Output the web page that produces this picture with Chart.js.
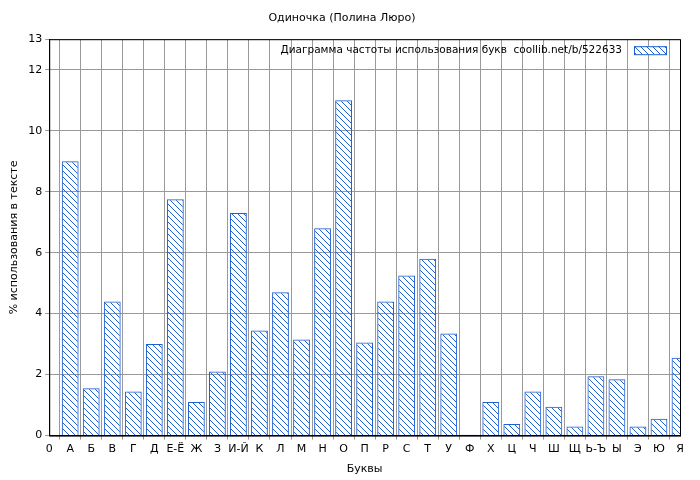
<!DOCTYPE html>
<html><head><meta charset="utf-8">
<script src="https://cdn.jsdelivr.net/npm/chart.js@4/dist/chart.umd.min.js"></script>
<style>html,body{margin:0;background:#fff}#w{width:700px;height:480px}</style>
</head><body><div id="w"><canvas id="c"></canvas></div>
<script>
const tickLabels = ["0","А","Б","В","Г","Д","Е-Ё","Ж","З","И-Й","К","Л","М","Н","О","П","Р","С","Т","У","Ф","Х","Ц","Ч","Ш","Щ","Ь-Ъ","Ы","Э","Ю","Я"];
const letters = tickLabels.slice(1);
const values = [9.0,1.55,4.4,1.45,3.0,7.75,1.1,2.1,7.3,3.45,4.7,3.15,6.8,11.0,3.05,4.4,5.25,5.8,3.35,0.03,1.1,0.38,1.45,0.95,0.3,1.95,1.85,0.3,0.55,2.55];
const legendText = "Диаграмма частоты использования букв  coollib.net/b/522633";

function hatch(){
  const p=document.createElement('canvas');p.width=6;p.height=6;
  const g=p.getContext('2d');g.strokeStyle='#1f5fd0';g.lineWidth=1;
  g.beginPath();g.moveTo(0,0);g.lineTo(6,6);g.moveTo(-3,3);g.lineTo(3,9);g.moveTo(3,-3);g.lineTo(9,3);g.stroke();
  return g.createPattern(p,'repeat');
}
const pat=hatch();
const font="'DejaVu Sans'";
Chart.defaults.font.family=font;Chart.defaults.font.size=11;Chart.defaults.color='#000';

const legendPlugin={id:'lg',afterDraw(ch){
  const a=ch.chartArea,c=ch.ctx;c.save();
  c.font="10.5px "+font;c.fillStyle='#000';c.textAlign='right';c.textBaseline='middle';
  c.fillText(legendText,a.right-58,a.top+11);
  c.fillStyle='#fff';c.fillRect(a.right-46,a.top+7,32,8);
  c.fillStyle=pat;c.fillRect(a.right-46,a.top+7,32,8);
  c.strokeStyle='#1f5fd0';c.lineWidth=1;c.strokeRect(a.right-46+0.5,a.top+7.5,32,8);
  c.restore();
}};

new Chart(document.getElementById('c'),{
  type:'bar',
  data:{datasets:[{data:letters.map((l,i)=>({x:i+1,y:values[i]})),backgroundColor:pat,borderColor:'#1f5fd0',borderWidth:1,borderSkipped:'bottom',barPercentage:0.8,categoryPercentage:1}]},
  options:{responsive:true,maintainAspectRatio:false,animation:false,
    layout:{padding:{left:4,right:20,top:0,bottom:0}},
    plugins:{legend:{display:false},tooltip:{enabled:false},
      title:{display:true,text:"Одиночка (Полина Люро)",font:{size:11,weight:'normal'},padding:{top:12,bottom:14}}},
    scales:{
      x:{type:'linear',min:0,max:30,offset:false,
        ticks:{stepSize:1,autoSkip:false,maxRotation:0,callback:v=>tickLabels[v]},
        grid:{color:'#999',borderDash:[2,2],drawTicks:true,tickLength:4},
        border:{color:'#000'},
        title:{display:true,text:"Буквы",font:{size:11},padding:{top:4}}},
      y:{min:0,max:13,
        ticks:{stepSize:2,callback:v=>v},
        grid:{color:'#999',borderDash:[2,2],tickLength:4},
        border:{color:'#000'},
        title:{display:true,text:"% использования в тексте",font:{size:11}}}
    }},
  plugins:[legendPlugin,{id:'frame',afterDraw(ch){const a=ch.chartArea,c=ch.ctx;c.save();c.strokeStyle='#000';c.lineWidth=1;c.strokeRect(a.left+0.5,a.top+0.5,a.right-a.left,a.bottom-a.top);c.restore();}},
    {id:'bg',beforeDraw(ch){const c=ch.ctx;c.save();c.fillStyle='#fff';c.fillRect(0,0,ch.width,ch.height);c.restore();}}]
});
</script></body></html>
